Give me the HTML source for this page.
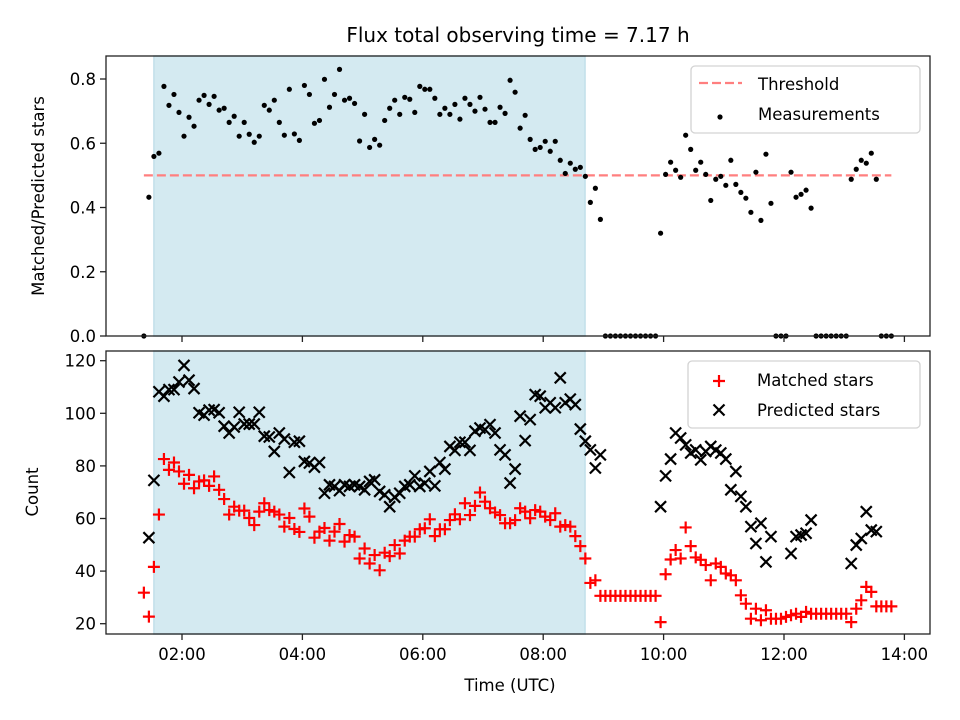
<!DOCTYPE html>
<html><head><meta charset="utf-8">
<style>
html,body{margin:0;padding:0;background:#fff;}
svg{display:block;font-family:"DejaVu Sans","Liberation Sans",sans-serif;}
</style></head>
<body>
<svg id="chart" width="960" height="720" viewBox="0 0 960 720" xmlns="http://www.w3.org/2000/svg">
<rect width="960" height="720" fill="#fff"/>
<text x="518" y="42" font-size="20" text-anchor="middle" fill="#000">Flux total observing time = 7.17 h</text>
<g id="topAxes"></g>
<g id="botAxes"></g>
<text transform="translate(44,196) rotate(-90)" font-size="16.5" text-anchor="middle">Matched/Predicted stars</text>
<text transform="translate(38,492) rotate(-90)" font-size="16.5" text-anchor="middle">Count</text>
<text x="510" y="691" font-size="16.5" text-anchor="middle">Time (UTC)</text>
</svg>
<script>
// time of each sample in minutes since midnight UTC
const times = [82,87,92,97,102,107,112,117,122,127,
132,137,142,147,152,157,162,167,172,177,
182,187,192,197,202,207,212,217,222,227,
232,237,242,247,252,257,262,267,272,277,
282,287,292,297,302,307,312,317,322,327,
332,337,342,347,352,357,362,367,372,377,
382,387,392,397,402,407,412,417,422,427,
432,437,442,447,452,457,462,467,472,477,
482,487,492,497,502,507,512,517,522,527,
532,537,542,547,552,557,562,567,572,577,
582,587,592,597,602,607,612,617,622,627,
632,637,642,647,652,657,662,667,672,677,
682,687,692,697,702,707,712,717,722,727,
732,737,742,747,752,757,762,767,772,777,
782,787,792,797,802,807,812,817,822,827];
const ratio = [0,.432,.559,.569,.777,.718,.752,.696,.622,.681,
.653,.734,.749,.721,.746,.703,.709,.665,.684,.622,
.665,.628,.603,.622,.718,.703,.734,.665,.625,.768,
.629,.609,.780,.752,.662,.671,.799,.712,.752,.830,
.734,.740,.724,.607,.690,.587,.612,.594,.671,.709,
.734,.690,.743,.737,.696,.777,.768,.768,.740,.690,
.709,.690,.721,.675,.740,.721,.700,.743,.706,.665,
.665,.712,.693,.796,.759,.647,.687,.612,.581,.587,
.606,.575,.606,.547,.506,.538,.519,.525,.497,.416,
.460,.363,0,0,0,0,0,0,0,0,
0,0,0,.320,.503,.541,.516,.494,.625,.581,
.516,.541,.503,.422,.488,.497,.469,.547,.472,.447,
.429,.385,.510,.360,.566,.413,0,0,0,.510,
.432,.441,.454,.398,0,0,0,0,0,0,
0,.488,.519,.547,.538,.569,.488,0,0,0];
const matched = [31.8,22.7,41.6,61.5,82.6,78.5,81.3,77.9,73.2,76.6,
71.5,74.1,74.5,72.4,76.0,70.9,67.4,61.5,64.5,63.0,
63.0,60.2,57.5,62.6,65.8,63.2,62.6,61.5,56.9,60.2,
56.0,54.9,63.8,60.7,52.7,55.0,56.4,51.6,55.0,57.9,
51.2,53.7,53.1,44.8,48.6,42.9,46.1,40.3,47.0,45.7,
49.9,46.7,51.6,53.1,53.1,55.9,56.3,59.7,53.3,55.9,
55.9,59.4,61.6,59.7,65.8,61.3,64.8,69.9,66.4,63.9,
62.3,61.3,58.2,58.2,59.4,63.9,62.6,60.1,63.2,62.6,
60.7,59.4,62.0,56.9,57.5,56.9,53.3,49.5,44.8,35.5,
36.5,30.6,30.6,30.6,30.6,30.6,30.6,30.6,30.6,30.6,
30.6,30.6,30.6,20.6,38.8,44.4,48.0,44.8,56.6,49.5,
45.2,44.3,42.3,36.5,42.9,41.6,39.1,38.4,36.5,30.8,
27.6,21.9,25.7,21.3,25.1,21.9,21.9,21.9,22.6,23.2,
23.8,22.6,24.5,23.8,23.8,23.8,23.8,23.8,23.8,23.8,
23.8,20.6,25.7,28.9,34.0,32.1,26.6,26.6,26.6,26.6];
const predicted = [null,52.7,74.5,108.2,106.5,109.0,109.0,111.9,118.2,112.6,
109.4,100.2,99.3,101.2,101.4,100.2,95.1,92.5,94.8,100.4,
95.9,95.9,95.9,100.4,91.3,91.0,85.5,92.5,90.2,77.5,
89.0,89.4,81.7,81.1,79.5,81.3,69.6,72.8,72.2,70.6,
72.8,72.2,72.8,72.2,70.9,74.1,74.7,70.3,69.0,64.5,
68.1,69.6,72.2,72.8,76.2,72.2,73.4,77.9,72.4,81.3,
78.8,87.4,85.9,89.0,89.0,85.9,93.2,94.4,93.8,95.7,
92.5,86.1,84.2,73.5,78.8,98.9,89.6,97.6,107.1,106.5,
102.1,104.0,102.1,113.5,104.0,105.4,103.3,94.0,89.4,86.1,
79.2,84.2,null,null,null,null,null,null,null,null,
null,null,null,64.5,76.2,82.6,92.5,90.6,88.0,84.9,
86.1,82.3,85.5,87.4,86.0,84.9,82.6,70.9,77.9,68.4,
64.5,56.9,50.5,58.2,43.5,53.1,null,null,null,46.7,
53.1,53.7,54.4,59.4,null,null,null,null,null,null,
null,42.9,49.9,52.4,62.6,55.6,55.0,null,null,null];
const threshold = 0.5;
const spanStart = 92, spanEnd = 521.7;
const xTickLabels = ["02:00","04:00","06:00","08:00","10:00","12:00","14:00"];
const xTickMinutes = [120,240,360,480,600,720,840];
const topTicks = [0.0,0.2,0.4,0.6,0.8];
const botTicks = [20,40,60,80,100,120];

const NS = "http://www.w3.org/2000/svg";
const AL = 106, AR = 930;
const T1 = 56, B1 = 336, T2 = 351, B2 = 634;
function xs(m){ return 182 + (m-120)/60*60.2; }
function y1(v){ return 336 - v*321.25; }
function y2(c){ return 623.7 - (c-20)*2.63; }
function mk(parent, tag, attrs){
  const e = document.createElementNS(NS, tag);
  for (const k in attrs) e.setAttribute(k, attrs[k]);
  parent.appendChild(e);
  return e;
}
const gTop = document.getElementById('topAxes');
const gBot = document.getElementById('botAxes');

function axesFrame(g, T, B, yTicks, yfn, fmt, showXLabels, prefix){
  const sp = mk(g,'rect',{x:xs(spanStart),y:T,width:xs(spanEnd)-xs(spanStart),height:B-T,fill:'#d4eaf1',stroke:'#c2e0ea','stroke-width':1.5});
  
  
  yTicks.forEach((v)=>{
    const y = yfn(v);
    const t = mk(g,'line',{x1:AL-6,x2:AL,y1:y,y2:y,stroke:'#222','stroke-width':1.3});
    
    
    const lb = mk(g,'text',{x:AL-10,y:y+6,'font-size':16.5,'text-anchor':'end'});
    lb.textContent = fmt(v);
    
    
  });
  xTickMinutes.forEach((m,i)=>{
    const x = xs(m);
    const t = mk(g,'line',{x1:x,x2:x,y1:B,y2:B+6,stroke:'#222','stroke-width':1.3});
    
    
    if (showXLabels){
      const lb = mk(g,'text',{x:x,y:B+26,'font-size':16.5,'text-anchor':'middle'});
      lb.textContent = xTickLabels[i];
      
      
    }
  });
}
axesFrame(gTop,T1,B1,topTicks,y1,v=>v.toFixed(1),false,'top');
axesFrame(gBot,T2,B2,botTicks,y2,v=>String(v),true,'bottom');

const thr = mk(gTop,'line',{x1:xs(times[0]),x2:xs(times[times.length-1]),y1:y1(threshold),y2:y1(threshold),stroke:'#ff7f7f','stroke-width':2.2,'stroke-dasharray':'9,4'});



times.forEach((m,i)=>{
  const c = mk(gTop,'circle',{cx:xs(m),cy:y1(ratio[i]),r:2.6,fill:'#000'});
  
  
});

function plus(g,x,y,s){
  return mk(g,'path',{d:`M${x-s},${y}H${x+s}M${x},${y-s}V${y+s}`,stroke:'#ff0000','stroke-width':2.2,fill:'none'});
}
function cross(g,x,y,s){
  return mk(g,'path',{d:`M${x-s},${y-s}L${x+s},${y+s}M${x-s},${y+s}L${x+s},${y-s}`,stroke:'#000','stroke-width':2.2,fill:'none'});
}
times.forEach((m,i)=>{
  if (predicted[i] !== null){
    const p = cross(gBot,xs(m),y2(predicted[i]),5.5);
    
    
  }
});
times.forEach((m,i)=>{
  const p = plus(gBot,xs(m),y2(matched[i]),6);
  
  
});

[[gTop,T1,B1,'top'],[gBot,T2,B2,'bottom']].forEach(([g,T,B,p])=>{
  const r = mk(g,'rect',{x:AL,y:T,width:AR-AL,height:B-T,fill:'none',stroke:'#222','stroke-width':1.3});
  
  
});

function legend(g,x,y,w,h,prefix){
  const r = mk(g,'rect',{x:x,y:y,width:w,height:h,rx:4,fill:'rgba(255,255,255,0.8)',stroke:'#d3d3d3','stroke-width':1.3});
  
  
}
legend(gTop,691,66,229,67,'top');
const l1 = mk(gTop,'line',{x1:699,x2:742,y1:83,y2:83,stroke:'#ff7f7f','stroke-width':2.2,'stroke-dasharray':'9,4'});


const t1 = mk(gTop,'text',{x:758,y:90,'font-size':16.5}); t1.textContent='Threshold';


const c1 = mk(gTop,'circle',{cx:720,cy:117,r:2.6,fill:'#000'});


const t2 = mk(gTop,'text',{x:758,y:120,'font-size':16.5}); t2.textContent='Measurements';



legend(gBot,688,361,232,67,'bottom');
const p1 = plus(gBot,719,381,6);


const t3 = mk(gBot,'text',{x:757,y:386,'font-size':16.5}); t3.textContent='Matched stars';


const p2 = cross(gBot,719,410,5.5);


const t4 = mk(gBot,'text',{x:757,y:416,'font-size':16.5}); t4.textContent='Predicted stars';


</script>
</body></html>
